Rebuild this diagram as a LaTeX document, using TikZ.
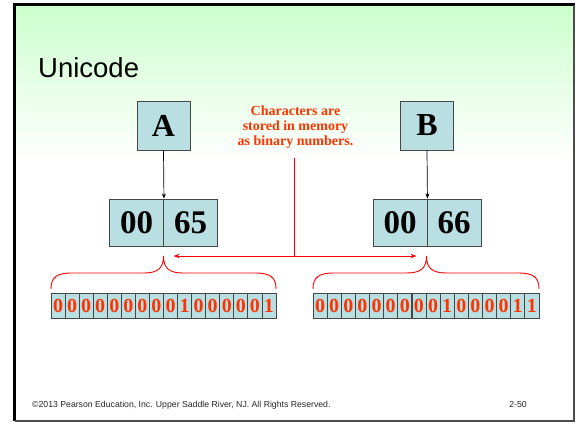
\documentclass[tikz,border=0pt]{standalone}
\usepackage{fontspec}
\setmainfont{Liberation Serif}
\setsansfont{Liberation Sans}
\usetikzlibrary{arrows.meta}
\definecolor{cellfill}{RGB}{185,223,226}
\definecolor{cellline}{RGB}{70,70,70}
\definecolor{bitred}{RGB}{255,51,0}
\definecolor{slidegreen}{RGB}{204,255,204}
\begin{document}
\begin{tikzpicture}[x=1pt,y=-1pt,
  charbox/.style={draw=cellline, fill=cellfill, line width=0.9pt, minimum width=53pt, minimum height=49pt, inner sep=0pt, font=\fontsize{32}{32}\selectfont\bfseries},
  codebox/.style={draw=cellline, fill=cellfill, line width=0.9pt, minimum width=54pt, minimum height=47pt, inner sep=0pt, font=\fontsize{33}{33}\selectfont\bfseries},
  bitcell/.style={draw=cellline, fill=cellfill, line width=0.7pt, minimum width=14.06pt, minimum height=25pt, inner sep=0pt, text=bitred, font=\fontsize{20}{20}\selectfont\bfseries},
  note/.style={align=center, text=bitred, font=\fontsize{14}{15.3}\selectfont\bfseries},
  redline/.style={draw=red, line width=1pt},
  bracestyle/.style={draw=red, line width=0.9pt},
  blackarrow/.style={draw=black, line width=0.7pt, -{Stealth[length=5pt,width=4pt]}},
]
\useasboundingbox (0,0) rectangle (578,424);
% slide background
\shade[top color=slidegreen, bottom color=white] (15,5) rectangle (574,160);
\draw[line width=3.2pt] (14.6,421) -- (14.6,4.6) -- (575,4.6);
\draw[line width=1.3pt, black!70] (574,4.6) -- (574,421) -- (14.6,421);
% title
\node[anchor=base west, inner sep=0pt, font=\sffamily\fontsize{27.5}{27.5}\selectfont] (title) at (38,77) {Unicode};
% characters
\node[charbox] (A) at (163.5,125.5) {A};
\node[charbox] (B) at (427,125.5) {B};
% code boxes
\node[codebox] (hiA) at (136.5,222.5) {00};
\node[codebox] (loA) at (190.5,222.5) {65};
\node[codebox] (hiB) at (400,222.5) {00};
\node[codebox] (loB) at (454,222.5) {66};
\draw[blackarrow] (A.south) -- (hiA.north east);
\draw[blackarrow] (B.south) -- (hiB.north east);
% note
\node[note] (note) at (295.5,127) {Characters are\\stored in memory\\as binary numbers.};
\coordinate (noteEnd) at (294.5,158);
\coordinate (braceA) at (163.5,256);
\coordinate (braceB) at (426.5,256);
\draw[redline] (noteEnd) -- (noteEnd |- braceA);
\draw[redline, {Stealth[length=6pt,width=4.5pt]}-{Stealth[length=6pt,width=4.5pt]}] ([xshift=10pt]braceA) -- ([xshift=-10pt]braceB);
% braces
\draw[bracestyle] (51,289) .. controls (51,277) and (57,273) .. (72,273) -- (144,273)
   .. controls (158,273) and (163.5,268) .. (braceA)
   .. controls (163.5,268) and (169,273) .. (183,273) -- (255,273)
   .. controls (270,273) and (276,277) .. (276,289);
\draw[bracestyle] (313,289) .. controls (313,277) and (319,273) .. (334,273) -- (406.5,273)
   .. controls (421,273) and (426.5,268) .. (braceB)
   .. controls (426.5,268) and (432,273) .. (446.5,273) -- (518,273)
   .. controls (533,273) and (539,277) .. (539,289);
% bit strips
\foreach \b [count=\i] in {0,0,0,0,0,0,0,0,0,1,0,0,0,0,0,1}
  \node[bitcell] (bA\i) at ({51+14.06*(\i-0.5)},305.5) {\b};
\foreach \b [count=\i] in {0,0,0,0,0,0,0,0,0,1,0,0,0,0,1,1}
  \node[bitcell] (bB\i) at ({313+14.12*(\i-0.5)},305.5) {\b};
% footer
\node[anchor=base west, inner sep=0pt, font=\sffamily\fontsize{8.7}{8.7}\selectfont, text=black!85] (foot) at (32,407.5) {\textcopyright2013 Pearson Education, Inc. Upper Saddle River, NJ. All Rights Reserved.};
\node[anchor=base east, inner sep=0pt, font=\sffamily\fontsize{8.7}{8.7}\selectfont, text=black!85] (page) at (527,407.5) {2-50};
\end{tikzpicture}
\end{document}
